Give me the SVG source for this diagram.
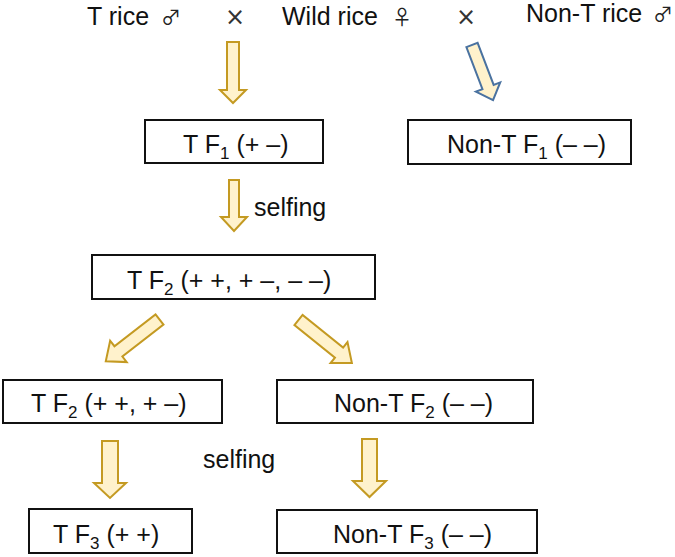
<svg xmlns="http://www.w3.org/2000/svg" width="675" height="557" viewBox="0 0 675 557">
<style>
text{font-family:"Liberation Sans",Arial,sans-serif;font-size:25px;fill:#111}
.sym{font-family:"Noto Sans CJK SC","DejaVu Sans",sans-serif;font-size:20px;fill:#222}
.x{font-family:"DejaVu Sans",sans-serif;font-size:24px;fill:#333}
.box{fill:#fff;stroke:#111;stroke-width:2}
.arr{fill:#FFF2CC;stroke:#C49A22;stroke-width:2;stroke-linejoin:miter}
.arrb{fill:#FFF2CC;stroke:#4A72A0;stroke-width:2;stroke-linejoin:miter}
.sub{font-size:17px}
</style>
<rect width="675" height="557" fill="#fff"/>
<g id="parents">
<text x="87" y="25">T rice</text><text class="sym" x="161" y="25">♂</text>
<text class="x" x="225" y="25">×</text>
<text x="282" y="25">Wild rice</text><text class="sym" x="392" y="25">♀</text>
<text class="x" x="456" y="25">×</text>
<text x="526" y="22">Non-T rice</text><text class="sym" x="653" y="22">♂</text>
</g>
<g id="connectors">
<path class="arr" d="M227 42 H239 V90 H246 L233 103 L220 90 H227 Z"/>
<path class="arrb" transform="translate(472 45) rotate(-20.9)" d="M-6 0 H6 V45 H13 L0 59 L-13 45 H-6 Z"/>
<path class="arr" d="M229 180 H239 V217 H247 L234 231 L221 217 H229 Z"/>
<path class="arr" transform="translate(159.5 319.5) rotate(52.2)" d="M-6.5 0 H6.5 V52 H13.5 L0 68 L-13.5 52 H-6.5 Z"/>
<path class="arr" transform="translate(298.5 320) rotate(-51.2)" d="M-6.5 0 H6.5 V52 H13.5 L0 68.5 L-13.5 52 H-6.5 Z"/>
<path class="arr" d="M102 441 H118 V483 H126 L110 498 L94 483 H102 Z"/>
<path class="arr" d="M362 439 H377 V481 H386 L369.5 497 L353 481 H362 Z"/>
<text x="254" y="216">selfing</text>
<text x="203" y="468">selfing</text>
</g>
<g id="tf1">
<rect class="box" x="145" y="120" width="178" height="43"/>
<text x="183" y="153">T F<tspan class="sub" dy="6">1</tspan><tspan dy="-6"> (+ –)</tspan></text>
</g>
<g id="ntf1">
<rect class="box" x="408" y="120" width="223" height="44"/>
<text x="447" y="153">Non-T F<tspan class="sub" dy="6">1</tspan><tspan dy="-6"> (– –)</tspan></text>
</g>
<g id="tf2all">
<rect class="box" x="92" y="255" width="283" height="44"/>
<text x="127" y="289">T F<tspan class="sub" dy="6">2</tspan><tspan dy="-6"> (+ +, + –, – –)</tspan></text>
</g>
<g id="tf2">
<rect class="box" x="3" y="380" width="219" height="43"/>
<text x="31" y="412">T F<tspan class="sub" dy="6">2</tspan><tspan dy="-6"> (+ +, + –)</tspan></text>
</g>
<g id="ntf2">
<rect class="box" x="277" y="380" width="256" height="43"/>
<text x="334" y="412">Non-T F<tspan class="sub" dy="6">2</tspan><tspan dy="-6"> (– –)</tspan></text>
</g>
<g id="tf3">
<rect class="box" x="29" y="509" width="163" height="44"/>
<text x="53" y="543">T F<tspan class="sub" dy="6">3</tspan><tspan dy="-6"> (+ +)</tspan></text>
</g>
<g id="ntf3">
<rect class="box" x="277" y="510" width="260" height="43"/>
<text x="333" y="543">Non-T F<tspan class="sub" dy="6">3</tspan><tspan dy="-6"> (– –)</tspan></text>
</g>
</svg>
